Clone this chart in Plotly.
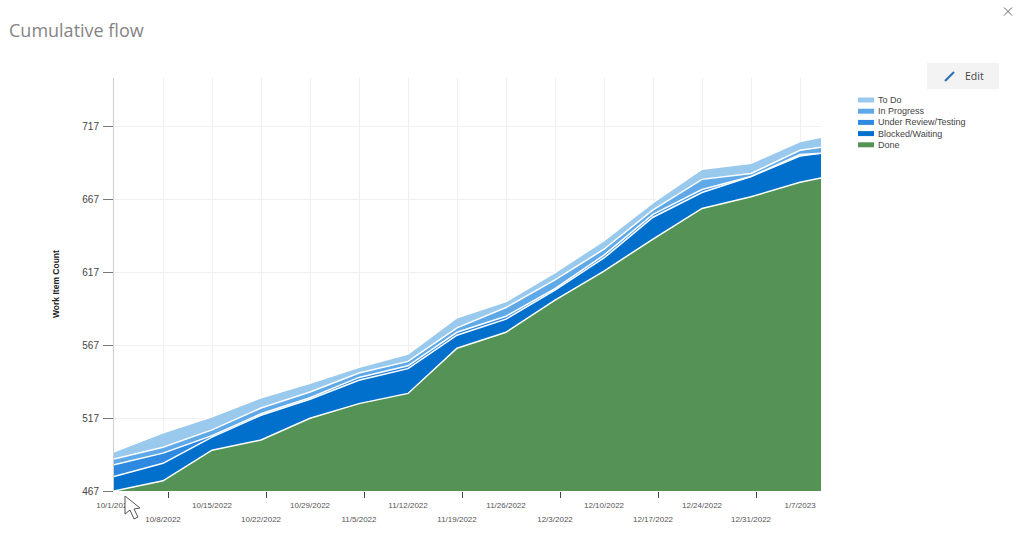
import plotly.graph_objects as go

W, H = 1024, 540

dates = ["2022-10-01", "2022-10-08", "2022-10-15", "2022-10-22", "2022-10-29", "2022-11-05",
         "2022-11-12", "2022-11-19", "2022-11-26", "2022-12-03", "2022-12-10", "2022-12-17",
         "2022-12-24", "2022-12-31", "2023-01-07", "2023-01-10"]
tick_labels = ["10/1/2022", "10/8/2022", "10/15/2022", "10/22/2022", "10/29/2022", "11/5/2022",
               "11/12/2022", "11/19/2022", "11/26/2022", "12/3/2022", "12/10/2022", "12/17/2022",
               "12/24/2022", "12/31/2022", "1/7/2023"]
y_ticks = [467, 517, 567, 617, 667, 717]

done = [467, 474, 495, 502, 517, 527, 534, 565, 576, 598, 618, 640, 661, 669, 679, 682]
blocked = [10, 12, 9, 17, 13, 16, 17, 9, 9, 7, 9, 15, 11, 14, 18, 17]
review = [8, 7, 1, 1, 1, 2, 2, 2, 2, 1, 2, 2, 2, 0, 1, 0]
progress = [4, 4, 4, 4, 4, 3, 3, 3, 6, 6, 4, 3, 7, 2, 3, 4]
todo = [5, 10, 9, 7, 6, 4, 5, 7, 4, 5, 6, 5, 7, 7, 6, 7]

series_names = ["Done", "Blocked/Waiting", "Under Review/Testing", "In Progress", "To Do"]
series_values = [done, blocked, review, progress, todo]
series_colors = ["#549355", "#0070cc", "#2d8ae0", "#5fa9e8", "#99c9ed"]

minor_ticks = ["2022-10-08T20:00", "2022-10-22T20:00", "2022-11-05T20:00", "2022-11-19T20:00",
               "2022-12-03T20:00", "2022-12-17T20:00", "2022-12-31T20:00"]


def px(x):
    return x / W


def py(y):
    return 1 - y / H


fig = go.Figure()
for name, vals, col in zip(series_names, series_values, series_colors):
    fig.add_trace(go.Scatter(x=dates, y=vals, name=name, stackgroup="one", mode="lines",
                             line=dict(color="white", width=1.5), fillcolor=col))

shapes = []
annotations = []

# legend
for i, (name, col) in enumerate(zip(series_names[::-1], series_colors[::-1])):
    yc = 100 + i * 11.2
    shapes.append(dict(type="rect", xref="paper", yref="paper", x0=px(858), x1=px(874),
                       y0=py(yc - 2.5), y1=py(yc + 2.5), fillcolor=col, line_width=0))
    annotations.append(dict(xref="paper", yref="paper", x=px(876), y=py(yc), text=name, showarrow=False,
                            xanchor="left", yanchor="middle",
                            font=dict(family="Liberation Sans", size=9, color="#444")))

# edit button
shapes.append(dict(type="rect", xref="paper", yref="paper", x0=px(927), x1=px(999), y0=py(63), y1=py(89),
                   fillcolor="#f3f3f3", line_width=0, layer="below"))
shapes.append(dict(type="line", xref="paper", yref="paper", x0=px(945), x1=px(954), y0=py(81), y1=py(72),
                   line=dict(color="#2f6fb5", width=2.2)))
annotations.append(dict(xref="paper", yref="paper", x=px(963), y=py(76.5), text="Edit", showarrow=False,
                        xanchor="left", yanchor="middle",
                        font=dict(family="Open Sans", size=10.5, color="#444")))
# close icon
shapes.append(dict(type="line", xref="paper", yref="paper", x0=px(1004), x1=px(1012), y0=py(7.5), y1=py(15.5),
                   line=dict(color="#666", width=1)))
shapes.append(dict(type="line", xref="paper", yref="paper", x0=px(1004), x1=px(1012), y0=py(15.5), y1=py(7.5),
                   line=dict(color="#666", width=1)))

# mouse cursor
pts = [(125, 496), (125, 514), (130, 510), (134, 519), (138, 517), (134, 509), (140, 508)]
path = "M " + " L ".join(f"{px(a)},{py(b)}" for a, b in pts) + " Z"
shapes.append(dict(type="path", xref="paper", yref="paper", path=path, fillcolor="white",
                   line=dict(color="#555", width=1)))

# title and axis title
annotations.append(dict(xref="paper", yref="paper", x=px(7), y=py(30), text="Cumulative flow", showarrow=False,
                        xanchor="left", yanchor="middle",
                        font=dict(family="Open Sans", size=18, color="#858585")))
annotations.append(dict(xref="paper", yref="paper", x=px(56), y=py(284), text="<b>Work Item Count</b>",
                        showarrow=False, textangle=-90, xanchor="center", yanchor="middle",
                        font=dict(family="Liberation Sans", size=8.5, color="#222")))

tick_text = [(f'<span style="font-size:8px">{t}</span>' if i % 2 == 0
              else f'<br><span style="font-size:8px">{t}</span>') for i, t in enumerate(tick_labels)]

fig.update_layout(
    width=W, height=H, autosize=False, showlegend=False,
    margin=dict(l=0, r=0, t=0, b=0),
    paper_bgcolor="white", plot_bgcolor="white",
    shapes=shapes, annotations=annotations,
    xaxis=dict(domain=[px(114), px(821)], type="date", range=["2022-10-01", "2023-01-10"],
               tickmode="array", tickvals=dates[:-1], ticktext=tick_text, tickangle=0,
               ticks="", showgrid=True, gridcolor="#efefef", gridwidth=1, zeroline=False,
               showline=False, automargin=False, ticklabelstandoff=4,
               tickfont=dict(family="Liberation Sans", size=11.5, color="#555"),
               minor=dict(tickmode="array", tickvals=minor_ticks, ticks="outside", ticklen=6,
                          tickcolor="#444", tickwidth=1, showgrid=False)),
    yaxis=dict(domain=[py(491), py(78)], range=[467, 750.6], tickmode="array", tickvals=y_ticks,
               ticks="outside", ticklen=10, tickcolor="#777", tickwidth=1,
               showgrid=True, gridcolor="#efefef", zeroline=False, showline=True, linecolor="#cfcfcf",
               linewidth=1, automargin=False, ticklabelstandoff=2,
               tickfont=dict(family="Liberation Sans", size=10, color="#444")),
)

fig.write_html("out.html", config={"displayModeBar": False},
               post_script="document.body.style.margin='0';document.body.style.overflow='hidden';")
